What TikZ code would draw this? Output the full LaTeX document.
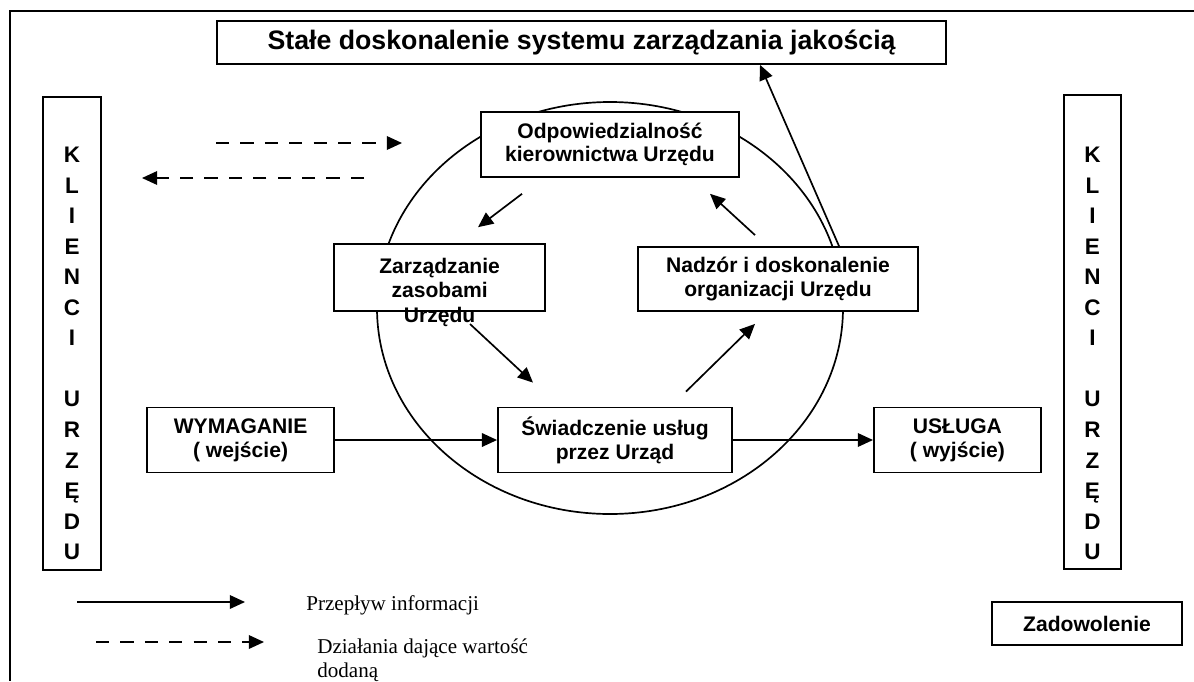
\documentclass[tikz,border=0pt]{standalone}
\usepackage{fontspec}
\setmainfont{Liberation Serif}
\setsansfont{Liberation Sans}
\usetikzlibrary{arrows.meta}
\begin{document}
\begin{tikzpicture}
    \tikzstyle{line} = [-{Triangle[length=0.38cm,width=0.34cm]}, line width=1.2pt]
    \tikzstyle{dline} = [line, dash pattern=on 0.33cm off 0.28cm]
    \tikzstyle{rec} = [rectangle, draw=black, fill=white, line width=1.3pt,
        align=center, inner sep=0pt, minimum height=1.625cm,
        font=\sffamily\bfseries\fontsize{15}{17}\selectfont]
    \tikzstyle{boxtext} = [align=center, inner sep=0pt,
        font=\sffamily\bfseries\fontsize{15}{17.4}\selectfont]
    \tikzstyle{klient} = [align=center, inner sep=0pt,
        font=\sffamily\bfseries\fontsize{16}{21.7}\selectfont]
    \tikzstyle{legend} = [align=left, inner sep=0pt,
        font=\rmfamily\fontsize{15}{17.2}\selectfont]

    \useasboundingbox (0,0) rectangle (29.85,-17.025);
    \draw[line width=1.3pt] (29.85,-0.28) -- (0.26,-0.28) -- (0.26,-17.025);
    \draw[line width=1.2pt] (15.25,-7.7) ellipse (5.825cm and 5.15cm);

    \node(doskonalenie) [rec, minimum width=18.225cm, minimum height=1.075cm,
        font=\sffamily\bfseries\fontsize{19}{22}\selectfont]
        at (14.54,-1.06)
        {Stałe doskonalenie systemu zarządzania jakością};
    \node(klienciL) [rec, minimum width=1.45cm, minimum height=11.825cm]
        at (1.8,-8.34) {};
    \node(klienciLtxt) [klient] at ([yshift=-0.5cm]klienciL)
        {K\\L\\I\\E\\N\\C\\I\\[21.7pt]U\\R\\Z\\Ę\\D\\U};
    \node(klienciR) [rec, minimum width=1.425cm, minimum height=11.85cm]
        at (27.31,-8.3) {};
    \node(klienciRtxt) [klient] at ([yshift=-0.54cm]klienciR)
        {K\\L\\I\\E\\N\\C\\I\\[21.7pt]U\\R\\Z\\Ę\\D\\U};

    \node(kierownictwo) [rec, minimum width=6.45cm] at (15.25,-3.61)
        {Odpowiedzialność\\ kierownictwa Urzędu};
    \node(zasoby) [rec, minimum width=5.275cm, minimum height=1.675cm]
        at (10.99,-6.94) {};
    \node(zasobytxt) [boxtext] at ([yshift=-0.36cm]zasoby)
        {Zarządzanie\\ zasobami\\ Urzędu};
    \node(nadzor) [rec, minimum width=7cm, minimum height=1.6cm]
        at (19.45,-6.975)
        {Nadzór i doskonalenie\\ organizacji Urzędu};
    \node(uslugi) [rec, minimum width=5.85cm] at (15.375,-11)
        {Świadczenie usług\\ przez Urząd};
    \node(wymaganie) [rec, minimum width=4.675cm, left of=uslugi,
        node distance=9.36cm]
        {WYMAGANIE\\ ( wejście)};
    \node(usluga) [rec, minimum width=4.175cm, right of=uslugi,
        node distance=8.56cm]
        {USŁUGA\\ ( wyjście)};
    \node(zadowolenie) [rec, minimum width=4.75cm, minimum height=1.075cm]
        at (27.175,-15.59) {Zadowolenie};

    \coordinate(wejscieA) at (5.4,-3.575);
    \coordinate(wejscieB) at (10.05,-3.575);
    \coordinate(wyjscieA) at (9.1,-4.45);
    \coordinate(wyjscieB) at (3.55,-4.45);
    \coordinate(legendaA) at (1.925,-15.05);
    \coordinate(legendaB) at (6.125,-15.05);
    \coordinate(legendaC) at (2.4,-16.05);
    \coordinate(legendaD) at (6.6,-16.05);

    \node(przeplyw) [legend, anchor=base west] at (7.65,-15.25)
        {Przepływ informacji};
    \node(dzialania) [legend, anchor=north west] at (7.925,-15.96)
        {Działania dające wartość\\dodaną};

    \draw[line] (wymaganie.east) -- (uslugi.west);
    \draw[line] (uslugi.east) -- (usluga.west);
    \draw[line] ([shift={(-2.2,-0.4)}]kierownictwo.south)
        -- ([shift={(0.96,0.4)}]zasoby.north);
    \draw[line] ([shift={(0.76,-0.3)}]zasoby.south)
        -- ([shift={(-2.05,0.6)}]uslugi.north);
    \draw[line] ([shift={(1.775,0.375)}]uslugi.north)
        -- ([shift={(-0.575,-0.3)}]nadzor.south);
    \draw[line] ([shift={(-0.575,0.275)}]nadzor.north)
        -- ([shift={(2.5,-0.4)}]kierownictwo.south);
    \draw[line] ([xshift=1.525cm]nadzor.north)
        -- ([xshift=4.46cm]doskonalenie.south);
    \draw[dline] (wejscieA) -- (wejscieB);
    \draw[dline] (wyjscieA) -- (wyjscieB);
    \draw[line] (legendaA) -- (legendaB);
    \draw[dline] (legendaC) -- (legendaD);
\end{tikzpicture}
\end{document}
